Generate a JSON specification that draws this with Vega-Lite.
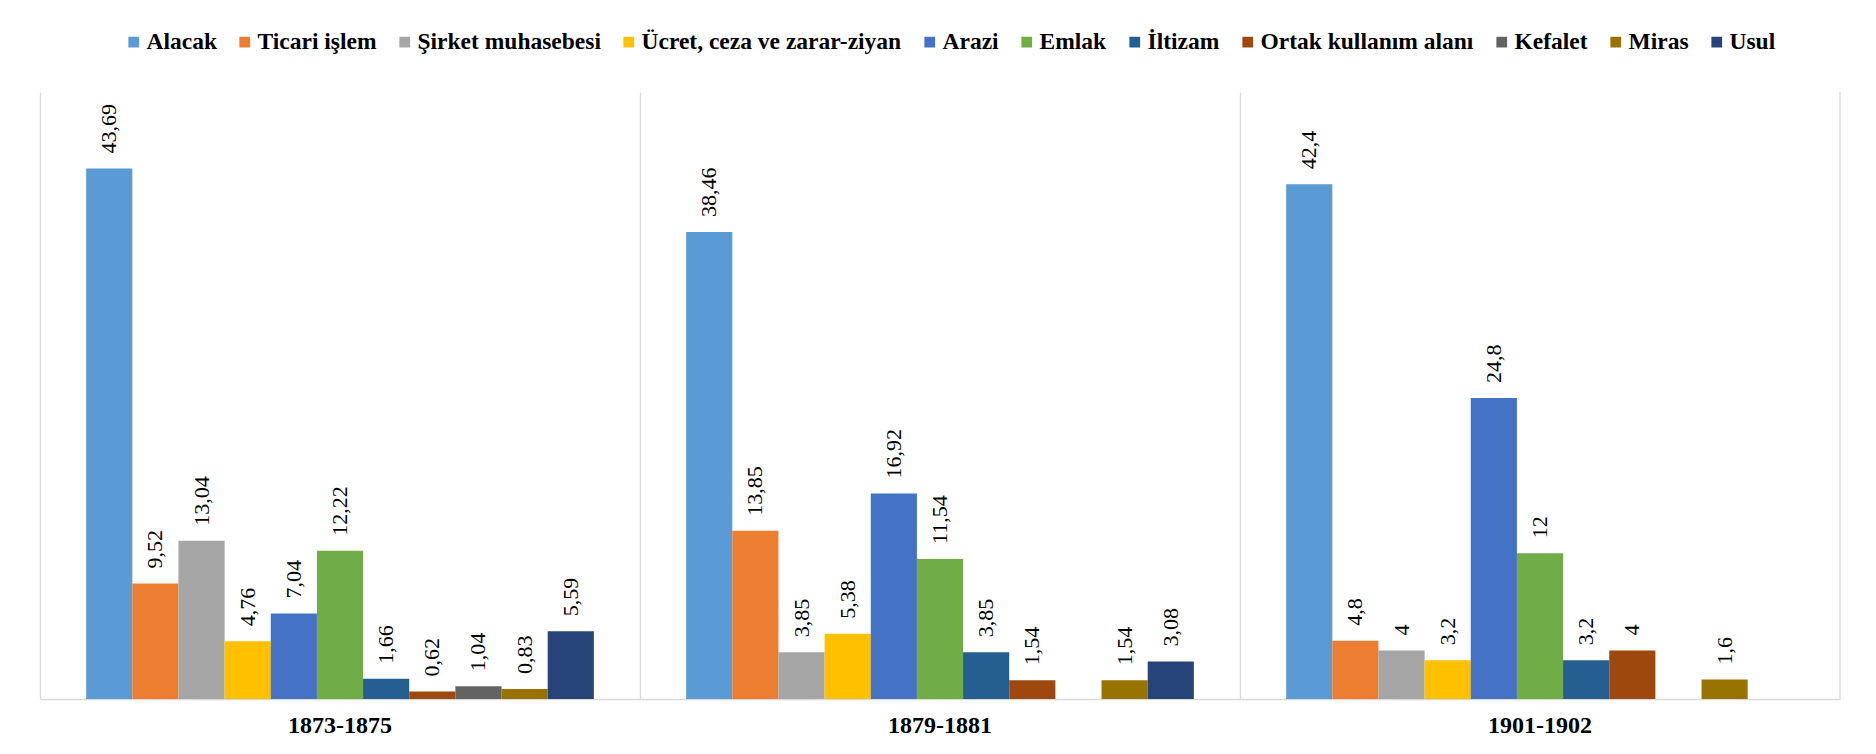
{
  "$schema": "https://vega.github.io/schema/vega-lite/v6.json",
  "width": 1800,
  "height": 607,
  "autosize": {"type": "none"},
  "padding": {"left": 40, "top": 92, "right": 36, "bottom": 55},
  "background": "white",
  "config": {
    "view": {"stroke": null},
    "locale": {"number": {"decimal": ",", "thousands": ".", "grouping": [3], "currency": ["", ""]}},
    "font": "Liberation Serif"
  },
  "data": {
    "values": [
      {"period": "1873-1875", "category": "Alacak", "value": 43.69},
      {"period": "1873-1875", "category": "Ticari işlem", "value": 9.52},
      {"period": "1873-1875", "category": "Şirket muhasebesi", "value": 13.04},
      {"period": "1873-1875", "category": "Ücret, ceza ve zarar-ziyan", "value": 4.76},
      {"period": "1873-1875", "category": "Arazi", "value": 7.04},
      {"period": "1873-1875", "category": "Emlak", "value": 12.22},
      {"period": "1873-1875", "category": "İltizam", "value": 1.66},
      {"period": "1873-1875", "category": "Ortak kullanım alanı", "value": 0.62},
      {"period": "1873-1875", "category": "Kefalet", "value": 1.04},
      {"period": "1873-1875", "category": "Miras", "value": 0.83},
      {"period": "1873-1875", "category": "Usul", "value": 5.59},
      {"period": "1879-1881", "category": "Alacak", "value": 38.46},
      {"period": "1879-1881", "category": "Ticari işlem", "value": 13.85},
      {"period": "1879-1881", "category": "Şirket muhasebesi", "value": 3.85},
      {"period": "1879-1881", "category": "Ücret, ceza ve zarar-ziyan", "value": 5.38},
      {"period": "1879-1881", "category": "Arazi", "value": 16.92},
      {"period": "1879-1881", "category": "Emlak", "value": 11.54},
      {"period": "1879-1881", "category": "İltizam", "value": 3.85},
      {"period": "1879-1881", "category": "Ortak kullanım alanı", "value": 1.54},
      {"period": "1879-1881", "category": "Miras", "value": 1.54},
      {"period": "1879-1881", "category": "Usul", "value": 3.08},
      {"period": "1901-1902", "category": "Alacak", "value": 42.4},
      {"period": "1901-1902", "category": "Ticari işlem", "value": 4.8},
      {"period": "1901-1902", "category": "Şirket muhasebesi", "value": 4},
      {"period": "1901-1902", "category": "Ücret, ceza ve zarar-ziyan", "value": 3.2},
      {"period": "1901-1902", "category": "Arazi", "value": 24.8},
      {"period": "1901-1902", "category": "Emlak", "value": 12},
      {"period": "1901-1902", "category": "İltizam", "value": 3.2},
      {"period": "1901-1902", "category": "Ortak kullanım alanı", "value": 4},
      {"period": "1901-1902", "category": "Miras", "value": 1.6}
    ]
  },
  "layer": [
    {
      "mark": {"type": "bar"},
      "encoding": {
        "x": {"field": "period", "type": "nominal", "sort": null, "scale": {"paddingInner": 0, "paddingOuter": 0},
          "axis": {"title": null, "labelAngle": 0, "ticks": false, "grid": true, "bandPosition": 0, "gridColor": "#d9d9d9", "gridWidth": 1.3, "domainColor": "#d9d9d9", "domainWidth": 1.3, "labelFont": "Liberation Serif", "labelFontSize": 24, "labelFontWeight": "bold", "labelColor": "#000000", "labelBaseline": "alphabetic", "labelPadding": 33}},
        "xOffset": {"field": "category", "type": "nominal", "sort": null,
          "scale": {"domain": ["Alacak", "Ticari işlem", "Şirket muhasebesi", "Ücret, ceza ve zarar-ziyan", "Arazi", "Emlak", "İltizam", "Ortak kullanım alanı", "Kefalet", "Miras", "Usul"], "paddingInner": 0, "paddingOuter": 1}},
        "y": {"field": "value", "type": "quantitative", "scale": {"domain": [0, 50], "nice": false}, "axis": null},
        "color": {"field": "category", "type": "nominal", "sort": null,
          "scale": {"domain": ["Alacak", "Ticari işlem", "Şirket muhasebesi", "Ücret, ceza ve zarar-ziyan", "Arazi", "Emlak", "İltizam", "Ortak kullanım alanı", "Kefalet", "Miras", "Usul"],
            "range": ["#5B9BD5", "#ED7D31", "#A5A5A5", "#FFC000", "#4472C4", "#70AD47", "#255E91", "#9E480E", "#636363", "#997300", "#264478"]},
          "legend": {"title": null, "orient": "none", "legendX": 82, "legendY": -62, "direction": "horizontal", "columns": 11, "symbolType": "square", "symbolSize": 115, "symbolStrokeWidth": 0, "labelFont": "Liberation Serif", "labelFontSize": 23.5, "labelFontWeight": "bold", "labelColor": "#000000", "labelOffset": 1, "columnPadding": 16, "labelLimit": 0, "padding": 0}}
      }
    },
    {
      "mark": {"type": "text", "angle": 270, "align": "left", "baseline": "middle", "dx": 15, "font": "Liberation Serif", "fontSize": 22, "color": "#000000"},
      "encoding": {
        "x": {"field": "period", "type": "nominal", "sort": null},
        "xOffset": {"field": "category", "type": "nominal", "sort": null},
        "y": {"field": "value", "type": "quantitative"},
        "text": {"field": "value", "type": "quantitative", "format": "~g"}
      }
    },
    {
      "data": {"values": [{"period": "1901-1902"}]},
      "mark": {"type": "rule", "color": "#d9d9d9", "strokeWidth": 1.3},
      "encoding": {
        "x": {"field": "period", "type": "nominal", "sort": null, "bandPosition": 1}
      }
    }
  ]
}
